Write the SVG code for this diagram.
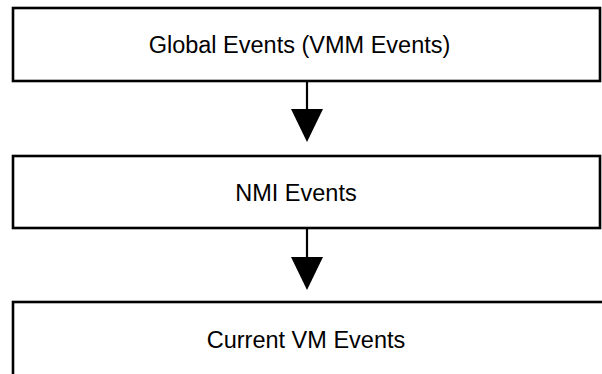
<svg xmlns="http://www.w3.org/2000/svg" width="602" height="374" viewBox="0 0 602 374">
  <style>
    .box { fill: #fff; stroke: #000; stroke-width: 2.6; }
    .label { font-family: "Liberation Sans", Arial, sans-serif; font-size: 23.5px; fill: #000; text-anchor: middle; }
    .wire { stroke: #000; stroke-width: 2.2; fill: none; }
    .head { fill: #000; }
  </style>
  <rect width="602" height="374" fill="#fff"/>

  <g id="global-events">
    <rect class="box" x="13" y="8" width="587" height="73"/>
    <text class="label" x="299.5" y="53">Global Events (VMM Events)</text>
  </g>

  <g id="nmi-events">
    <rect class="box" x="13" y="156" width="587" height="72"/>
    <text class="label" x="296" y="200.5">NMI Events</text>
  </g>

  <g id="current-vm-events">
    <rect class="box" x="13" y="302" width="600" height="100"/>
    <text class="label" x="306" y="348">Current VM Events</text>
  </g>

  <g id="connectors">
    <line class="wire" x1="307" y1="81" x2="307" y2="110"/>
    <polygon class="head" points="291,109 323,109 307,142"/>
    <line class="wire" x1="307" y1="228" x2="307" y2="258"/>
    <polygon class="head" points="291,257 323,257 307,290"/>
  </g>
</svg>
